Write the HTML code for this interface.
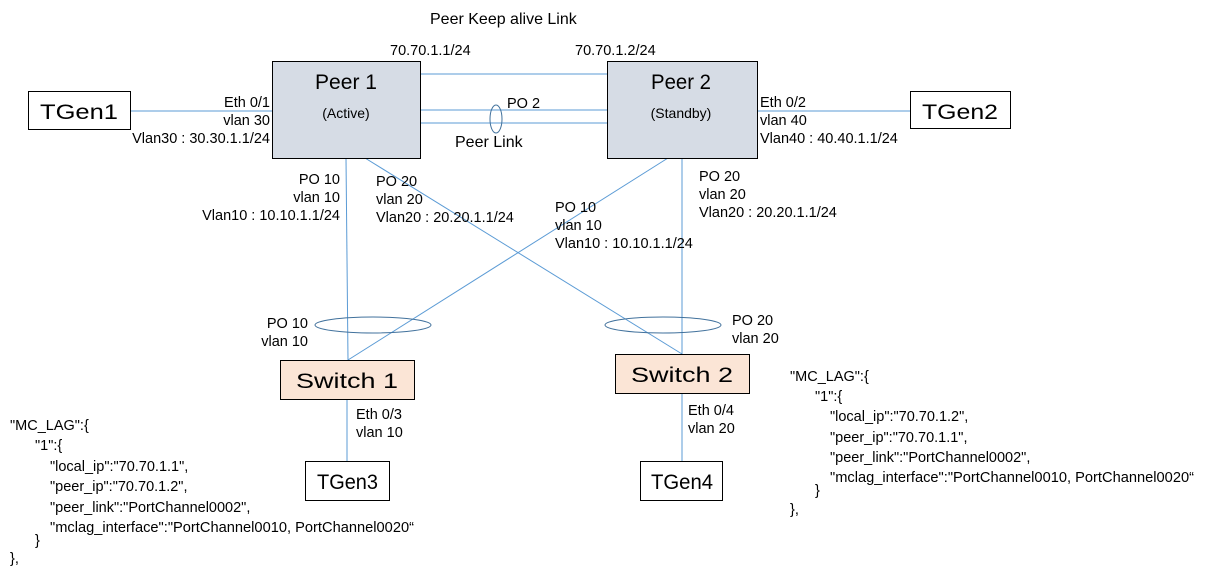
<!DOCTYPE html>
<html><head><meta charset="utf-8"><style>
html,body{margin:0;padding:0;background:#fff;width:1205px;height:575px;overflow:hidden}
svg text{font-family:"Liberation Sans",sans-serif;fill:#000}
</style></head><body>
<svg width="1205" height="575" viewBox="0 0 1205 575" xmlns="http://www.w3.org/2000/svg">
<g stroke="#5b9bd5" stroke-width="1" fill="none">
<line x1="130" y1="111" x2="272" y2="111"/>
<line x1="757" y1="111" x2="910" y2="111"/>
<line x1="420" y1="74" x2="607" y2="74"/>
<line x1="420" y1="110" x2="607" y2="110"/>
<line x1="420" y1="123" x2="607" y2="123"/>
<line x1="346" y1="158" x2="348" y2="360"/>
<line x1="365" y1="158" x2="682" y2="354"/>
<line x1="682" y1="158" x2="682" y2="354"/>
<line x1="668" y1="158" x2="348" y2="360"/>
<line x1="347" y1="399" x2="347" y2="461"/>
<line x1="682" y1="393" x2="682" y2="461"/>
</g>
<g stroke="#41719c" stroke-width="1" fill="none">
<ellipse cx="496" cy="119" rx="6" ry="14"/>
<ellipse cx="373" cy="325" rx="58" ry="8"/>
<ellipse cx="663" cy="325" rx="58" ry="8"/>
</g>
<rect x="272.5" y="61.5" width="148" height="97" fill="#d6dce5" stroke="#000"/>
<rect x="607.5" y="61.5" width="150" height="97" fill="#d6dce5" stroke="#000"/>
<rect x="280.5" y="360.5" width="134" height="39" fill="#fbe5d6" stroke="#000"/>
<rect x="615.5" y="354.5" width="134" height="39" fill="#fbe5d6" stroke="#000"/>
<rect x="28.5" y="91.5" width="102" height="38" fill="#fff" stroke="#000"/>
<rect x="910.5" y="91.5" width="100" height="37" fill="#fff" stroke="#000"/>
<rect x="305.5" y="461.5" width="84" height="39" fill="#fff" stroke="#000"/>
<rect x="640.5" y="461.5" width="82" height="39" fill="#fff" stroke="#000"/>
<g font-size="21">
<text x="315" y="89" textLength="62" lengthAdjust="spacingAndGlyphs">Peer 1</text>
<text x="651" y="89" textLength="60" lengthAdjust="spacingAndGlyphs">Peer 2</text>
<text x="296" y="388" textLength="102" lengthAdjust="spacingAndGlyphs">Switch 1</text>
<text x="631" y="382" textLength="102" lengthAdjust="spacingAndGlyphs">Switch 2</text>
<text x="40" y="119" textLength="78" lengthAdjust="spacingAndGlyphs">TGen1</text>
<text x="922" y="119" textLength="76" lengthAdjust="spacingAndGlyphs">TGen2</text>
<text x="317" y="489" textLength="61" lengthAdjust="spacingAndGlyphs">TGen3</text>
<text x="651" y="489" textLength="62" lengthAdjust="spacingAndGlyphs">TGen4</text>
</g>
<g font-size="14">
<text x="346" y="118" text-anchor="middle">(Active)</text>
<text x="681" y="118" text-anchor="middle">(Standby)</text>
</g>
<g font-size="16">
<text x="430" y="24">Peer Keep alive Link</text>
<text x="455" y="147">Peer Link</text>
</g>
<g font-size="14.5">
<text x="390" y="55">70.70.1.1/24</text>
<text x="575" y="55">70.70.1.2/24</text>
<text x="507" y="108">PO 2</text>
<text x="270" y="107" text-anchor="end">Eth 0/1</text>
<text x="270" y="125" text-anchor="end">vlan 30</text>
<text x="270" y="143" text-anchor="end">Vlan30 : 30.30.1.1/24</text>
<text x="760" y="107">Eth 0/2</text>
<text x="760" y="125">vlan 40</text>
<text x="760" y="143">Vlan40 : 40.40.1.1/24</text>
<text x="340" y="184" text-anchor="end">PO 10</text>
<text x="340" y="202" text-anchor="end">vlan 10</text>
<text x="340" y="220" text-anchor="end">Vlan10 : 10.10.1.1/24</text>
<text x="376" y="186">PO 20</text>
<text x="376" y="204">vlan 20</text>
<text x="376" y="222">Vlan20 : 20.20.1.1/24</text>
<text x="555" y="212">PO 10</text>
<text x="555" y="230">vlan 10</text>
<text x="555" y="248">Vlan10 : 10.10.1.1/24</text>
<text x="699" y="181">PO 20</text>
<text x="699" y="199">vlan 20</text>
<text x="699" y="217">Vlan20 : 20.20.1.1/24</text>
<text x="308" y="328" text-anchor="end">PO 10</text>
<text x="308" y="346" text-anchor="end">vlan 10</text>
<text x="732" y="325">PO 20</text>
<text x="732" y="343">vlan 20</text>
<text x="356" y="419">Eth 0/3</text>
<text x="356" y="437">vlan 10</text>
<text x="688" y="415">Eth 0/4</text>
<text x="688" y="433">vlan 20</text>
</g>
<g font-size="14.5">
<text x="10" y="430">"MC_LAG":{</text>
<text x="35" y="450">"1":{</text>
<text x="50" y="471">"local_ip":"70.70.1.1",</text>
<text x="50" y="491">"peer_ip":"70.70.1.2",</text>
<text x="50" y="512">"peer_link":"PortChannel0002",</text>
<text x="50" y="532" textLength="364" lengthAdjust="spacingAndGlyphs">"mclag_interface":"PortChannel0010,  PortChannel0020“</text>
<text x="35" y="545">}</text>
<text x="10" y="563">},</text>
<text x="790" y="381">"MC_LAG":{</text>
<text x="815" y="401">"1":{</text>
<text x="830" y="421">"local_ip":"70.70.1.2",</text>
<text x="830" y="442">"peer_ip":"70.70.1.1",</text>
<text x="830" y="462">"peer_link":"PortChannel0002",</text>
<text x="830" y="482" textLength="364" lengthAdjust="spacingAndGlyphs">"mclag_interface":"PortChannel0010,  PortChannel0020“</text>
<text x="815" y="495">}</text>
<text x="790" y="514">},</text>
</g>
</svg>
</body></html>
